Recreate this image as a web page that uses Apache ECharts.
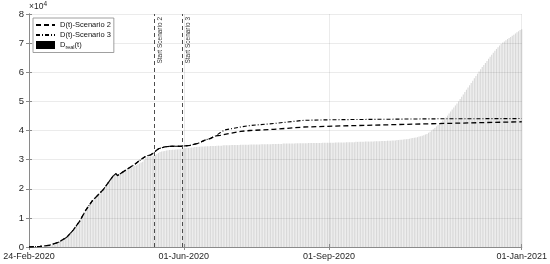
<!DOCTYPE html>
<html><head><meta charset="utf-8">
<script src="https://cdn.jsdelivr.net/npm/echarts@6/dist/echarts.min.js"></script>
<style>html,body{margin:0;padding:0;background:#fff}#c{width:550px;height:264px}</style>
</head><body><div id="c"></div>
<script>
// x = days since 24-Feb-2020, y in units of 10^4
const tickDays = [0, 98, 190, 312];
const tickLabels = ['24-Feb-2020', '01-Jun-2020', '01-Sep-2020', '01-Jan-2021'];

// daily observed deaths D_real(t), ×10^4 (24-Feb-2020 ... 01-Jan-2021)
const dReal = [
 0.00,0.00,0.00,0.00,0.00,0.00,0.00,
 0.01,0.01,0.02,0.02,0.03,0.04,0.05,
 0.06,0.08,0.10,0.12,0.14,0.17,0.20,
 0.23,0.27,0.31,0.35,0.40,0.46,0.52,
 0.58,0.65,0.72,0.79,0.87,0.96,1.06,
 1.16,1.26,1.35,1.43,1.51,1.58,1.64,
 1.70,1.75,1.80,1.86,1.92,1.98,2.05,
 2.12,2.19,2.26,2.33,2.40,2.46,2.51,
 2.44,2.48,2.52,2.56,2.60,2.63,2.66,
 2.69,2.72,2.74,2.77,2.79,2.81,2.84,
 2.87,2.90,2.93,3.00,3.07,3.09,3.10,
 3.11,3.12,3.13,3.15,3.19,3.23,3.26,
 3.28,3.29,3.30,3.31,3.32,3.33,3.33,
 3.34,3.34,3.35,3.35,3.36,3.36,3.37,
 3.38,3.39,3.40,3.40,3.41,3.42,3.42,
 3.43,3.43,3.44,3.44,3.45,3.45,3.45,
 3.46,3.46,3.46,3.47,3.47,3.47,3.47,
 3.48,3.48,3.48,3.48,3.49,3.49,3.49,
 3.49,3.49,3.50,3.50,3.50,3.50,3.50,
 3.50,3.51,3.51,3.51,3.51,3.51,3.51,
 3.52,3.52,3.52,3.52,3.52,3.52,3.52,
 3.53,3.53,3.53,3.53,3.53,3.53,3.53,
 3.54,3.54,3.54,3.54,3.54,3.54,3.54,
 3.55,3.55,3.55,3.55,3.55,3.55,3.55,
 3.55,3.56,3.56,3.56,3.56,3.56,3.56,
 3.56,3.56,3.57,3.57,3.57,3.57,3.57,
 3.57,3.57,3.57,3.57,3.58,3.58,3.58,
 3.58,3.58,3.58,3.58,3.58,3.59,3.59,
 3.59,3.59,3.59,3.59,3.59,3.60,3.60,
 3.60,3.60,3.60,3.60,3.61,3.61,3.61,
 3.61,3.61,3.61,3.62,3.62,3.62,3.62,
 3.62,3.62,3.63,3.63,3.63,3.63,3.64,
 3.64,3.64,3.64,3.65,3.65,3.65,3.66,
 3.66,3.66,3.67,3.67,3.68,3.68,3.69,
 3.70,3.70,3.71,3.72,3.73,3.74,3.75,
 3.76,3.77,3.79,3.80,3.82,3.84,3.86,
 3.88,3.92,3.96,4.00,4.04,4.09,4.14,
 4.19,4.24,4.29,4.34,4.39,4.45,4.51,
 4.58,4.65,4.72,4.79,4.86,4.93,5.00,
 5.08,5.16,5.24,5.32,5.40,5.48,5.55,
 5.63,5.71,5.79,5.87,5.95,6.03,6.10,
 6.18,6.25,6.32,6.39,6.46,6.53,6.60,
 6.67,6.74,6.80,6.86,6.92,6.97,7.02,
 7.06,7.10,7.14,7.18,7.21,7.25,7.29,
 7.33,7.37,7.41,7.45,7.48
];

// model curves D(t), sampled days
const modelDays = [0,7,13,19,24,28,32,36,40,47,53,55,56,61,67,71,74,77,79,82,86,90,97,102,107,111,115,118,121,124,128,134,140,155,174,193,253,312];
const scen2 = [0,0.02,0.06,0.17,0.34,0.58,0.88,1.27,1.58,1.97,2.42,2.52,2.45,2.63,2.84,3.01,3.12,3.16,3.24,3.37,3.44,3.46,3.46,3.49,3.56,3.66,3.73,3.81,3.83,3.87,3.91,3.97,4.00,4.04,4.12,4.15,4.23,4.30];
const scen3 = [0,0.02,0.06,0.17,0.34,0.58,0.88,1.27,1.58,1.97,2.42,2.52,2.45,2.63,2.84,3.01,3.12,3.16,3.24,3.37,3.44,3.46,3.46,3.49,3.56,3.66,3.73,3.81,3.92,4.02,4.06,4.12,4.17,4.24,4.35,4.37,4.40,4.41];

const scenStartDays = [79, 97];
const scenStartLabels = ['Start Scenario 2', 'Start Scenario 3'];

const FONT = '"Liberation Sans", Arial, sans-serif';
const AX = '#8a8a8a';
const TXT = '#262626';
const GRID = 'rgba(0,0,0,0.08)';

const chart = echarts.init(document.getElementById('c'), null, {renderer: 'canvas'});
chart.setOption({
  animation: false,
  textStyle: {fontFamily: FONT},
  grid: {left: 29, right: 26, top: 14, bottom: 17},
  legend: {
    orient: 'vertical', left: 33, top: 18,
    itemWidth: 19, itemHeight: 8, itemGap: 2,
    padding: [3, 3, 2, 2],
    borderColor: '#888', borderWidth: 0.8, backgroundColor: '#fff',
    textStyle: {fontSize: 7.5, color: '#111', fontFamily: FONT,
      rich: {sub: {fontSize: 5.5, padding: [5, 0, 0, 0], fontFamily: FONT, color: '#111'}}},
    formatter: n => n === 'Dreal(t)' ? 'D{sub|real}(t)' : n,
    data: [
      {name: 'D(t)-Scenario 2', itemStyle: {opacity: 0, color: 'rgba(0,0,0,0)', borderWidth: 0}},
      {name: 'D(t)-Scenario 3', itemStyle: {opacity: 0, color: 'rgba(0,0,0,0)', borderWidth: 0}},
      {name: 'Dreal(t)', icon: 'rect', itemStyle: {color: '#000'}}
    ]
  },
  xAxis: [{
    type: 'value', min: 0, max: 312, position: 'bottom', z: 2,
    axisLine: {show: true, lineStyle: {color: AX, width: 1}},
    axisTick: {show: true, inside: true, length: 3, customValues: tickDays, lineStyle: {color: AX}},
    axisLabel: {customValues: tickDays, showMinLabel: true, showMaxLabel: true,
      formatter: v => tickLabels[tickDays.indexOf(v)] || '', fontSize: 9, color: TXT, margin: 5, fontFamily: FONT},
    splitLine: {show: true, lineStyle: {color: GRID, width: 1}}
  }, {
    type: 'value', min: 0, max: 312, position: 'top', z: 2,
    axisLine: {show: true, lineStyle: {color: AX, width: 1}},
    axisTick: {show: true, inside: true, length: 3, customValues: tickDays, lineStyle: {color: AX}},
    axisLabel: {show: false},
    splitLine: {show: false}
  }],
  yAxis: [{
    type: 'value', min: 0, max: 8, interval: 1, z: 2,
    axisLine: {show: true, lineStyle: {color: AX, width: 1}},
    axisTick: {show: true, inside: true, length: 3, lineStyle: {color: AX}},
    axisLabel: {fontSize: 9.5, color: TXT, margin: 5, fontFamily: FONT},
    splitLine: {show: true, lineStyle: {color: GRID, width: 1}},
    name: '×10{sup|4}', nameLocation: 'end', nameGap: 1, nameMoveOverlap: false,
    nameTextStyle: {align: 'left', verticalAlign: 'bottom', fontSize: 8.5, color: TXT, fontFamily: FONT,
      rich: {sup: {fontSize: 6.5, padding: [0, 0, 5, 0], color: TXT, fontFamily: FONT}}}
  }, {
    type: 'value', min: 0, max: 8, interval: 1, position: 'right', z: 2,
    axisLine: {show: true, lineStyle: {color: AX, width: 1}},
    axisTick: {show: true, inside: true, length: 3, lineStyle: {color: AX}},
    axisLabel: {show: false},
    splitLine: {show: false}
  }],
  series: [{
    name: 'Dreal(t)', type: 'bar', xAxisIndex: 0, yAxisIndex: 0, z: 1,
    barWidth: 1.1,
    itemStyle: {color: '#d8d8d8'},
    data: dReal.map((v, i) => [i, v])
  }, {
    name: 'D(t)-Scenario 2', type: 'line', z: 3, showSymbol: false, symbol: 'none',
    lineStyle: {color: '#000', width: 1.3, type: [5, 3]},
    itemStyle: {color: '#000'},
    data: modelDays.map((d, i) => [d, scen2[i]]),
    markLine: {
      silent: true, symbol: 'none', animation: false,
      lineStyle: {color: '#4d4d4d', width: 1, type: [4, 3]},
      label: {show: true, position: 'insideEndBottom', formatter: '{b}', fontSize: 6.5, color: '#333', fontFamily: FONT, distance: [3, 3]},
      data: scenStartDays.map((d, i) => [
        {name: scenStartLabels[i], coord: [d, 0]},
        {coord: [d, 8]}
      ])
    }
  }, {
    name: 'D(t)-Scenario 3', type: 'line', z: 4, showSymbol: false, symbol: 'none',
    lineStyle: {color: '#000', width: 1.1, type: [4, 2, 1, 2]},
    itemStyle: {color: '#000'},
    data: modelDays.map((d, i) => [d, scen3[i]])
  }]
});
</script>
</body></html>
